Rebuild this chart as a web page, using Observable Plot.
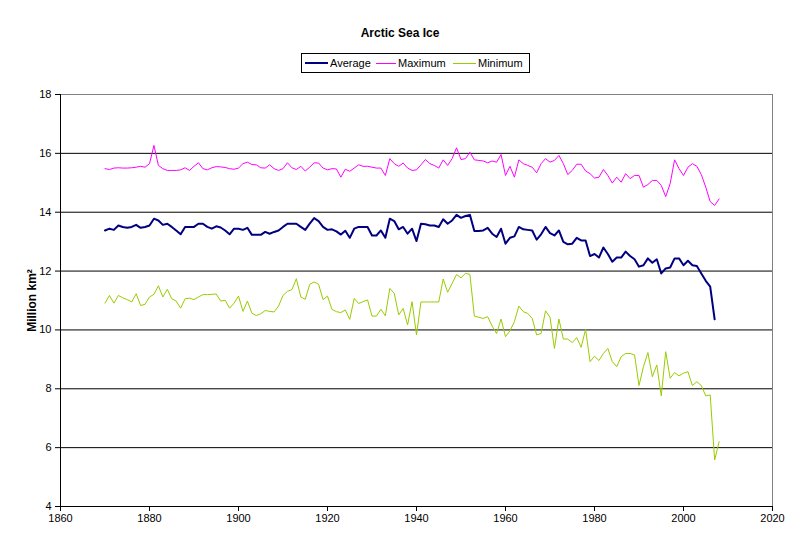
<!DOCTYPE html>
<html>
<head>
<meta charset="utf-8">
<script src="https://cdn.jsdelivr.net/npm/d3@7"></script>
<script src="https://cdn.jsdelivr.net/npm/@observablehq/plot@0.6"></script>
<style>
  html, body { margin: 0; padding: 0; background: #fff; }
  #wrap { position: relative; width: 800px; height: 546px; font-family: "Liberation Sans", Arial, sans-serif; color: #000; }
  #title { position: absolute; left: 0; width: 800px; top: 26px; text-align: center; font-weight: bold; font-size: 12px; }
  #legend { position: absolute; left: 301px; top: 53px; width: 229px; height: 20px; box-sizing: border-box; border: 1px solid #000; background: #fff; font-size: 11px; }
  .sw { position: absolute; }
  .lt { position: absolute; top: 2px; line-height: 14px; }
  #chart { position: absolute; left: 0; top: 0; }
</style>
</head>
<body>
<div id="wrap">
  <div id="chart"></div>
  <div id="title">Arctic Sea Ice</div>
  <div id="legend"></div>
</div>
<script>
const title = "Arctic Sea Ice";
const yLabel = "Million km²";
const seriesNames = ["Average", "Maximum", "Minimum"];
const seriesColors = ["#000080", "#FF00FF", "#99CC00"];
const xTicks = [1860, 1880, 1900, 1920, 1940, 1960, 1980, 2000, 2020];
const yTicks = [4, 6, 8, 10, 12, 14, 16, 18];

const years = d3.range(1870, 2009);

const average = [
13.38,13.44,13.40,13.55,13.50,13.47,13.50,13.57,13.47,13.50,
13.55,13.78,13.72,13.57,13.61,13.50,13.38,13.25,13.50,13.50,
13.50,13.61,13.61,13.50,13.44,13.52,13.48,13.38,13.25,13.44,
13.44,13.40,13.47,13.23,13.23,13.23,13.33,13.27,13.33,13.38,
13.50,13.61,13.61,13.61,13.50,13.40,13.61,13.80,13.70,13.50,
13.40,13.42,13.35,13.24,13.37,13.13,13.44,13.50,13.50,13.50,
13.21,13.21,13.38,13.13,13.78,13.70,13.42,13.50,13.27,13.44,
13.02,13.61,13.59,13.55,13.55,13.50,13.76,13.61,13.72,13.91,
13.81,13.87,13.91,13.36,13.36,13.38,13.47,13.27,13.16,13.44,
12.93,13.13,13.18,13.50,13.42,13.40,13.38,13.07,13.25,13.50,
13.29,13.21,13.38,12.99,12.91,12.93,13.13,13.04,13.04,12.51,
12.58,12.46,12.80,12.58,12.32,12.46,12.46,12.66,12.51,12.40,
12.15,12.20,12.43,12.28,12.40,11.92,12.09,12.12,12.43,12.43,
12.20,12.35,12.20,12.17,11.92,11.67,11.47,10.36
];

const maximum = [
15.48,15.45,15.50,15.51,15.50,15.50,15.51,15.53,15.56,15.53,
15.65,16.27,15.59,15.48,15.42,15.42,15.42,15.44,15.51,15.42,
15.56,15.68,15.48,15.44,15.51,15.55,15.54,15.52,15.48,15.46,
15.50,15.65,15.70,15.62,15.61,15.51,15.50,15.61,15.48,15.42,
15.48,15.68,15.51,15.45,15.56,15.40,15.53,15.68,15.67,15.50,
15.44,15.48,15.47,15.19,15.46,15.39,15.50,15.61,15.56,15.56,
15.53,15.50,15.50,15.25,15.82,15.65,15.56,15.67,15.50,15.42,
15.44,15.61,15.79,15.65,15.59,15.50,15.78,15.59,15.82,16.19,
15.79,15.82,16.04,15.78,15.76,15.74,15.68,15.74,15.70,15.96,
15.25,15.56,15.19,15.78,15.65,15.59,15.53,15.34,15.65,15.82,
15.70,15.76,15.93,15.65,15.28,15.42,15.63,15.63,15.40,15.31,
15.16,15.19,15.45,15.25,14.99,15.19,15.02,15.31,15.14,15.25,
15.25,14.85,14.94,15.08,15.08,14.91,14.53,14.97,15.78,15.48,
15.25,15.53,15.65,15.56,15.28,14.85,14.36,14.23,14.45
];

const minimum = [
10.91,11.17,10.91,11.17,11.09,11.03,10.95,11.23,10.83,10.87,
11.12,11.21,11.50,11.12,11.38,11.06,10.98,10.74,11.06,11.08,
11.03,11.12,11.20,11.20,11.21,11.22,10.98,11.01,10.74,10.91,
11.15,10.63,10.98,10.57,10.49,10.55,10.66,10.63,10.61,10.81,
11.17,11.31,11.37,11.74,11.12,11.04,11.55,11.63,11.55,11.03,
11.15,10.70,10.62,10.59,10.68,10.36,11.07,10.90,10.96,11.02,
10.47,10.47,10.70,10.48,11.41,11.24,10.51,10.73,10.17,10.96,
9.83,10.95,10.95,10.95,10.95,10.95,11.73,11.28,11.58,11.88,
11.77,11.92,11.89,10.47,10.43,10.39,10.45,10.13,9.88,10.37,
9.77,9.97,10.28,10.81,10.62,10.56,10.39,9.83,9.88,10.65,
10.43,9.37,10.37,9.69,9.69,9.57,9.74,9.41,10.02,8.92,
9.11,8.96,9.20,9.37,8.92,8.75,9.09,9.20,9.20,9.15,
8.11,8.75,9.23,8.41,8.81,7.76,9.26,8.36,8.55,8.44,
8.53,8.58,8.11,8.24,8.11,7.76,7.79,5.58,6.20
];

const toRows = (vals) => vals.map((v, i) => ({year: years[i], value: v}));
const avgRows = toRows(average);
const maxRows = toRows(maximum);
const minRows = toRows(minimum);

const chart = Plot.plot({
  width: 800,
  height: 546,
  marginLeft: 60,
  marginRight: 28,
  marginTop: 94,
  marginBottom: 40,
  style: {fontFamily: "'Liberation Sans', Arial, sans-serif", fontSize: "11px", color: "#000", background: "#fff", overflow: "visible"},
  x: {domain: [1860, 2020]},
  y: {domain: [4, 18]},
  marks: [
    Plot.gridY(yTicks.filter(d => d > 4 && d < 18), {stroke: "#000", strokeOpacity: 1}),
    Plot.frame({stroke: "#808080"}),
    Plot.ruleX([1860], {stroke: "#000"}),
    Plot.ruleY([4], {stroke: "#000"}),
    Plot.axisY(yTicks, {tickSize: 5, tickPadding: 4, label: null, fontSize: 11, stroke: "#000"}),
    Plot.axisX(xTicks, {tickSize: 5, tickPadding: 3, label: null, fontSize: 11, tickFormat: d => String(d), stroke: "#000"}),
    Plot.text([yLabel], {frameAnchor: "left", textAnchor: "middle", dx: -28, rotate: -90, fontWeight: "bold", fontSize: 12, fill: "#000"}),
    Plot.line(maxRows, {x: "year", y: "value", stroke: seriesColors[1], strokeWidth: 1}),
    Plot.line(minRows, {x: "year", y: "value", stroke: seriesColors[2], strokeWidth: 1}),
    Plot.line(avgRows, {x: "year", y: "value", stroke: seriesColors[0], strokeWidth: 2})
  ]
});
document.getElementById("chart").appendChild(chart);
document.getElementById("title").textContent = title;

// legend
const legend = document.getElementById("legend");
const lineX = [3, 74, 151];
const lineW = [23, 20, 23];
const textX = [28, 96, 176];
seriesNames.forEach((name, i) => {
  const sw = document.createElement("div");
  sw.className = "sw";
  sw.style.left = lineX[i] + "px";
  sw.style.width = lineW[i] + "px";
  sw.style.top = (i === 0 ? 8 : 9) + "px";
  sw.style.height = (i === 0 ? 2 : 1) + "px";
  sw.style.background = seriesColors[i];
  legend.appendChild(sw);
  const t = document.createElement("span");
  t.className = "lt";
  t.style.left = textX[i] + "px";
  t.textContent = name;
  legend.appendChild(t);
});
</script>
</body>
</html>
